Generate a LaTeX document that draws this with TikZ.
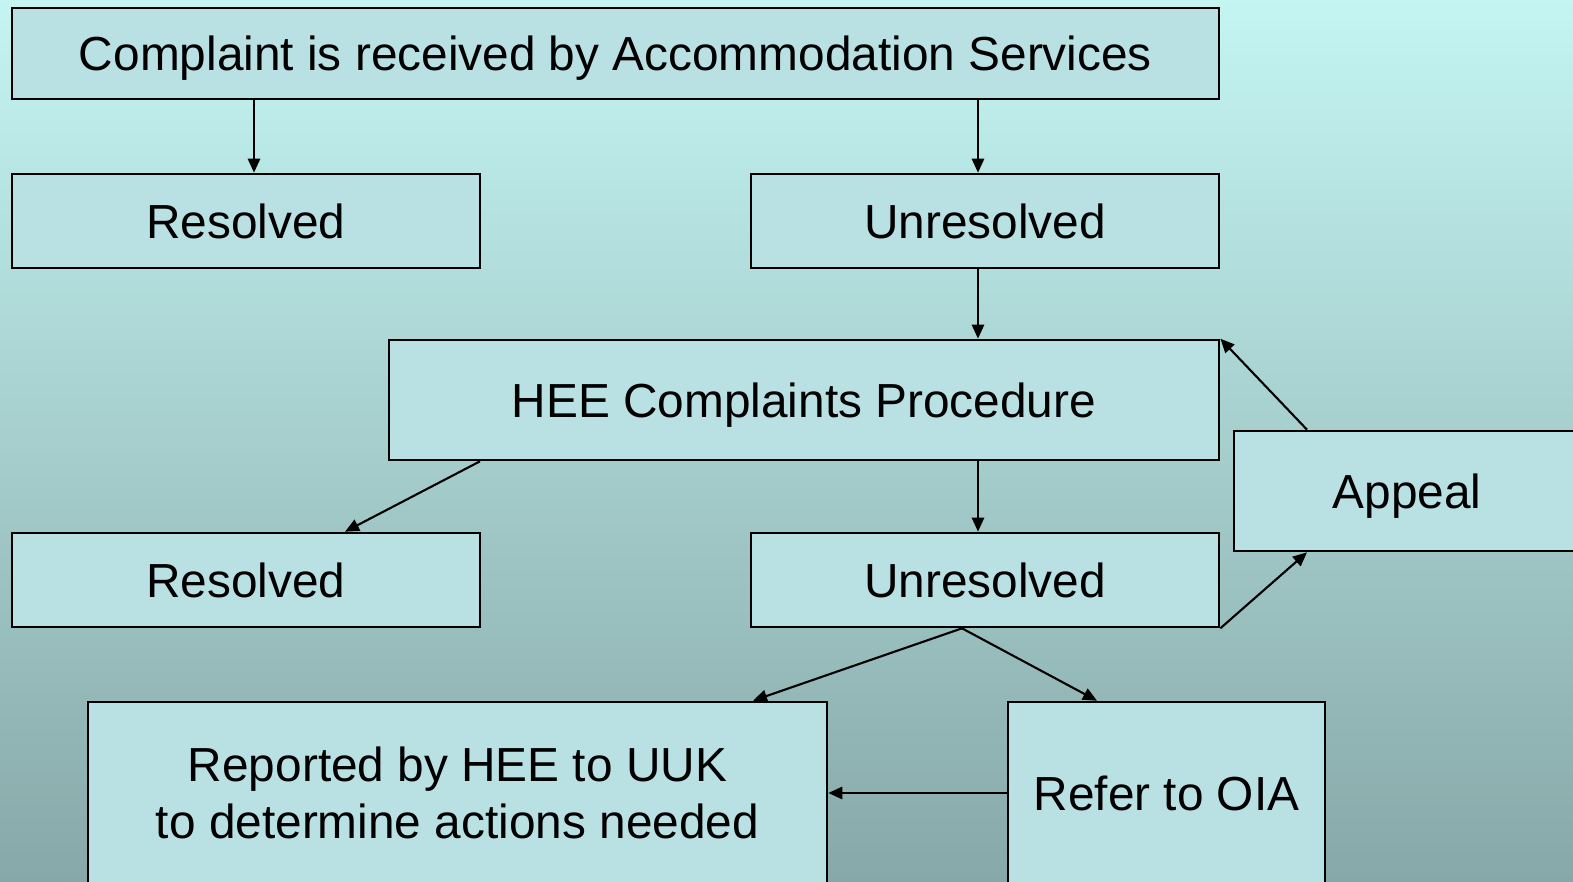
\documentclass[tikz,border=0pt]{standalone}
\usepackage{fontspec}
\setmainfont{Liberation Sans}
\usetikzlibrary{arrows.meta,calc}
\definecolor{bgtop}{HTML}{C4F5F3}
\definecolor{bgbot}{HTML}{87A8A8}
\definecolor{boxfill}{HTML}{B9E0E3}
\begin{document}
\begin{tikzpicture}[x=0.02cm,y=-0.02cm,
  box/.style={draw=black,line width=1.5pt,fill=boxfill,inner sep=0pt,
    font=\fontsize{27.2pt}{32.3pt}\selectfont,align=center},
  oneline/.style={text height=19.5pt,text depth=0pt},
  arr/.style={line width=1.2pt,-{Triangle[length=8pt,width=7pt]}}]
\useasboundingbox (0,0) rectangle (1573,882);
\clip (0,0) rectangle (1573,882);
\shade[top color=bgtop,bottom color=bgbot] (0,0) rectangle (1573,882);
\node[box,oneline,minimum width=1207*0.02cm,minimum height=91*0.02cm] (top) at (615.5,53.5) {Complaint is received by Accommodation Services};
\node[box,oneline,minimum width=468*0.02cm,minimum height=94*0.02cm] (res1) at (246,221) {Resolved};
\node[box,oneline,minimum width=468*0.02cm,minimum height=94*0.02cm] (unres1) at (985,221) {Unresolved};
\node[box,oneline,minimum width=830*0.02cm,minimum height=120*0.02cm] (hee) at (804,400) {HEE Complaints Procedure};
\node[box,oneline,minimum width=346*0.02cm,minimum height=120*0.02cm] (appeal) at (1407,491) {Appeal};
\node[box,oneline,minimum width=468*0.02cm,minimum height=94*0.02cm] (res2) at (246,580) {Resolved};
\node[box,oneline,minimum width=468*0.02cm,minimum height=94*0.02cm] (unres2) at (985,580) {Unresolved};
\node[box,minimum width=739*0.02cm,minimum height=182*0.02cm] (uuk) at (457.5,793) {Reported by HEE to UUK\\to determine actions needed};
\node[box,oneline,minimum width=317*0.02cm,minimum height=182*0.02cm] (oia) at (1166.5,793) {Refer to OIA};
\draw[arr] (top.south -| 254,0) -- (res1.north -| 254,0);
\draw[arr] (top.south -| 978,0) -- (unres1.north -| 978,0);
\draw[arr] (unres1.south -| 978,0) -- (hee.north -| 978,0);
\draw[arr] (hee.south -| 480,0) -- (res2.north -| 345,0);
\draw[arr] (hee.south -| 978,0) -- (unres2.north -| 978,0);
\draw[arr] (unres2.south east) -- (appeal.south -| 1307,0);
\draw[arr] (appeal.north -| 1307,0) -- (hee.north east);
\draw[arr] (unres2.south -| 962,0) -- (uuk.north -| 753,0);
\draw[arr] (unres2.south -| 962,0) -- (oia.north -| 1097,0);
\draw[arr] (oia.west) -- (uuk.east);
\end{tikzpicture}
\end{document}
